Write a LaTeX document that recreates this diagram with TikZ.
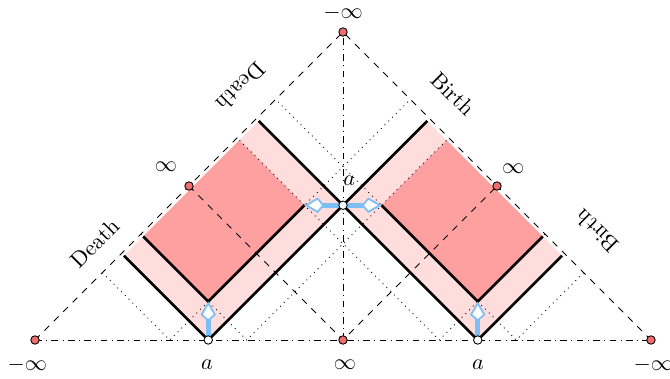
\documentclass[tikz,border=0pt]{standalone}
\usetikzlibrary{arrows.meta}
\definecolor{lightpink}{RGB}{255,221,221}
\definecolor{darkpink}{RGB}{255,160,160}
\definecolor{dotred}{RGB}{240,110,110}
\definecolor{flowblue}{RGB}{125,190,245}
\begin{document}
\begin{tikzpicture}[x=1.22cm,y=1.22cm,
  reddot/.style={circle,draw,fill=dotred,inner sep=0pt,minimum size=3.8pt},
  whitedot/.style={circle,draw,fill=white,inner sep=0pt,minimum size=3.8pt},
  flow/.style={line width=2.4pt,flowblue,-{Kite[length=9pt,width=7pt,inset=3pt,fill=white,line width=0.8pt]}}]
\useasboundingbox (-4.455,-0.494) rectangle (4.247,4.416);
% points
\coordinate (bl) at (-4,0);
\coordinate (br) at (4,0);
\coordinate (tp) at (0,4);
\coordinate (o) at (0,0);
\coordinate (ml) at (-2,2);
\coordinate (mr) at (2,2);
\coordinate (al) at (-1.75,0);
\coordinate (ar) at (1.75,0);
\coordinate (ac) at (0,1.75);
% bands
\fill[lightpink] (al) -- (ac) -- (-1.095,2.845) -- (-2.845,1.095) -- cycle;
\fill[lightpink] (ar) -- (ac) -- (1.095,2.845) -- (2.845,1.095) -- cycle;
\fill[darkpink] (-1.75,0.5) -- (-0.5,1.75) -- (-1.345,2.595) -- (-2.595,1.345) -- cycle;
\fill[darkpink] (1.75,0.5) -- (0.5,1.75) -- (1.345,2.595) -- (2.595,1.345) -- cycle;
% light rays
\draw[dotted] (-3.125,0.875) -- (-2.25,0) -- (0.875,3.125);
\draw[dotted] (-2.625,1.375) -- (-1.25,0) -- (1.375,2.625);
\draw[dotted] (2.625,1.375) -- (1.25,0) -- (-1.375,2.625);
\draw[dotted] (3.125,0.875) -- (2.25,0) -- (-0.875,3.125);
% boundary
\draw[dashed] (bl) -- (tp) -- (br);
\draw[dashed] (ml) -- (o) -- (mr);
\draw[dashdotted] (bl) -- (br);
\draw[dashdotted] (o) -- (tp);
% edges
\draw[very thick] (-2.845,1.095) -- (al) -- (1.095,2.845);
\draw[very thick] (2.845,1.095) -- (ar) -- (-1.095,2.845);
\draw[very thick] (-2.595,1.345) -- (-1.75,0.5) -- (-0.5,1.75);
\draw[very thick] (2.595,1.345) -- (1.75,0.5) -- (0.5,1.75);
% flows
\draw[flow] (al) -- (-1.75,0.5);
\draw[flow] (ar) -- (1.75,0.5);
\draw[flow] (ac) -- (-0.5,1.75);
\draw[flow] (ac) -- (0.5,1.75);
% dots
\node[reddot] (dbl) at (bl) {};
\node[reddot] (dbr) at (br) {};
\node[reddot] (dtp) at (tp) {};
\node[reddot] (do) at (o) {};
\node[reddot] (dml) at (ml) {};
\node[reddot] (dmr) at (mr) {};
\node[whitedot] (dal) at (al) {};
\node[whitedot] (dar) at (ar) {};
\node[whitedot] (dac) at (ac) {};
% labels
\node (ltp) at (0,4.25) {$-\infty$};
\node (lbl) at (-4.1,-0.325) {$-\infty$};
\node (lbr) at (4.03,-0.325) {$-\infty$};
\node (lo) at (0.025,-0.325) {$\infty$};
\node (lal) at (-1.766,-0.325) {$a$};
\node (lar) at (1.753,-0.325) {$a$};
\node (lac) at (0.08,2.065) {$a$};
\node (lml) at (-2.3,2.25) {$\infty$};
\node (lmr) at (2.21,2.23) {$\infty$};
\node[rotate=45] (deathl) at (-3.22,1.26) {Death};
\node[rotate=-135] (deatht) at (-1.325,3.286) {Death};
\node[rotate=-45] (birtht) at (1.43,3.195) {Birth};
\node[rotate=135] (birthr) at (3.30,1.415) {Birth};
\end{tikzpicture}
\end{document}
